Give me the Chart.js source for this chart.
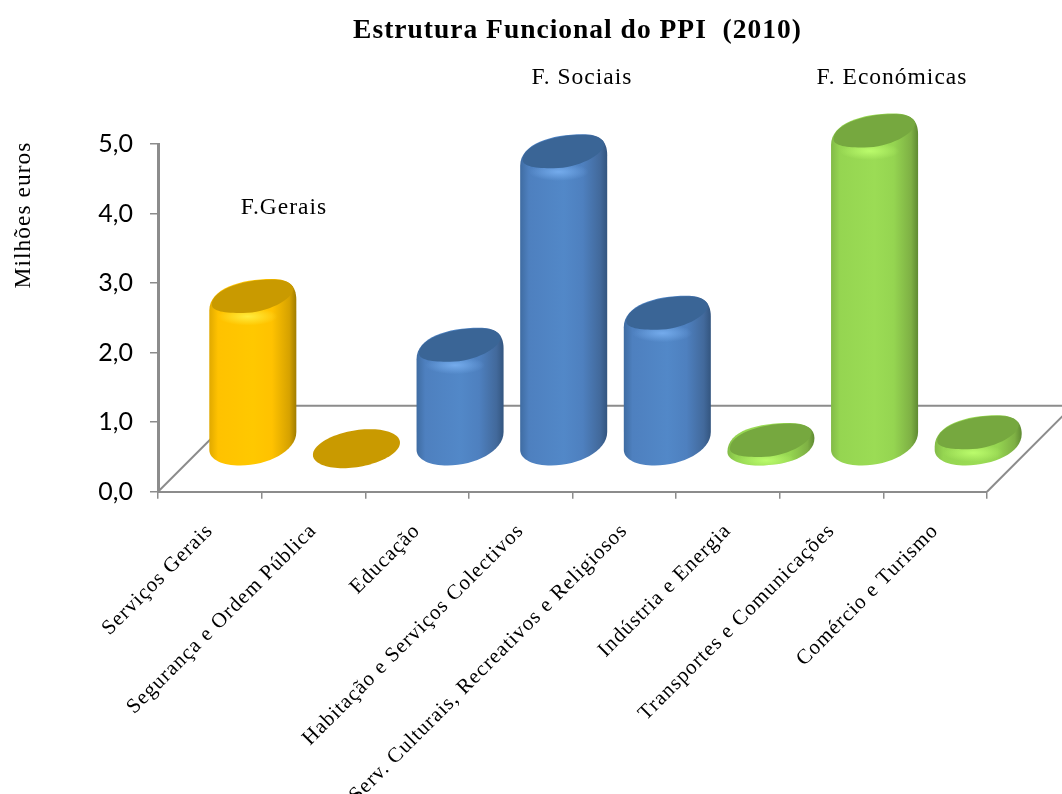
<!DOCTYPE html>
<html lang="pt">
<head>
<meta charset="utf-8">
<title>Estrutura Funcional do PPI (2010)</title>
<style>html,body{margin:0;padding:0;background:#fff;overflow:hidden}canvas{display:block}</style>
<script src="https://cdn.jsdelivr.net/npm/chart.js@4"></script>
</head>
<body>
<canvas id="c" width="1062" height="794"></canvas>
<script>
const categories = ['Serviços Gerais','Segurança e Ordem Pública','Educação','Habitação e Serviços Colectivos','Serv. Culturais, Recreativos e Religiosos','Indústria e Energia','Transportes e Comunicações','Comércio e Turismo'];
const values = [2.16, 0, 1.46, 4.24, 1.92, 0.09, 4.54, 0.2];
const barColors = ['#ffc000','#ffc000','#4f81bd','#4f81bd','#4f81bd','#92d050','#92d050','#92d050'];
const groupLabels = ['F.Gerais','F. Sociais','F. Económicas'];
const titleText = 'Estrutura Funcional do PPI  (2010)';
const yTitle = 'Milhões euros';

const SERIF = '"Liberation Serif", serif';
const GREY = '#8c8c8c';
const DEPTH = 86;
const shades = {
  '#ffc000': {left:'#e0a900', main:'#ffc200', mid:'#ffc800', dark:'#d6a200', edge:'#a07c00', face:'#c99a00', hi:'rgba(255,240,70,.9)'},
  '#4f81bd': {left:'#3f6ca2', main:'#4e80bf', mid:'#5288c8', dark:'#42699b', edge:'#33557f', face:'#3a6596', hi:'rgba(120,175,240,.9)'},
  '#92d050': {left:'#82ba47', main:'#95d551', mid:'#9bdc55', dark:'#7eb044', edge:'#5f8a32', face:'#76a83f', hi:'rgba(190,255,110,.9)'}
};

function flatEllipse(ctx, cx, cy, W) {
  const H = 19.5, S = 13.5, A = Math.sqrt(W * W - S * S);
  ctx.beginPath();
  for (let i = 0; i <= 96; i++) {
    const t = i / 96 * Math.PI * 2;
    ctx.lineTo(cx + A * Math.cos(t) + S * Math.sin(t), cy - H * Math.sin(t));
  }
  ctx.closePath();
}

function silhouette(ctx, cx, yt, yb, k) {
  const X = v => cx + v * k;
  let rTop = yt + 1.5, rBot = yb - 16, lTop = yt + 12, lBot = yb + 1.5;
  if (rTop > rBot) rTop = rBot = (rTop + rBot) / 2;
  if (lTop > lBot) lTop = lBot = (lTop + lBot) / 2;
  ctx.beginPath();
  ctx.moveTo(X(43.5), rTop);
  ctx.bezierCurveTo(X(43.5), yt - 14, X(35), yt - 19.5, X(19), yt - 19.5);
  ctx.bezierCurveTo(X(-12), yt - 19.5, X(-43.5), lTop - 22, X(-43.5), lTop);
  ctx.lineTo(X(-43.5), lBot);
  ctx.bezierCurveTo(X(-43.5), yb + 12, X(-30), yb + 17.5, X(-12.5), yb + 17.5);
  ctx.bezierCurveTo(X(15), yb + 17.5, X(43.5), rBot + 19, X(43.5), rBot);
  ctx.closePath();
}

function topFace(ctx, cx, yt, k) {
  const X = v => cx + v * k;
  ctx.beginPath();
  ctx.moveTo(X(40.5), yt - 10);
  ctx.bezierCurveTo(X(40.5), yt - 15.5, X(33), yt - 19, X(19), yt - 19);
  ctx.bezierCurveTo(X(-12), yt - 19, X(-41), yt - 8, X(-41), yt + 6);
  ctx.bezierCurveTo(X(-41), yt + 13, X(-28), yt + 14.5, X(-10), yt + 14.5);
  ctx.bezierCurveTo(X(14), yt + 14.5, X(40.5), yt + 1, X(40.5), yt - 10);
  ctx.closePath();
}

Chart.BarElement.prototype.draw = function (ctx) {
  const {x, y, base, width} = this.getProps(['x','y','base','width']);
  const col = shades[this.options.backgroundColor] || shades['#4f81bd'];
  const cx = x + DEPTH / 2, yb = base - DEPTH / 2, yt = y - DEPTH / 2;
  const W = width / 2, k = W / 43.5;
  ctx.save();
  if (yb - yt < 0.5) {
    flatEllipse(ctx, cx, yb, W);
    ctx.fillStyle = col.face;
    ctx.fill();
    ctx.restore();
    return;
  }
  silhouette(ctx, cx, yt, yb, k);
  const g = ctx.createLinearGradient(cx - W, 0, cx + W, 0);
  g.addColorStop(0, col.left);
  g.addColorStop(0.1, col.main);
  g.addColorStop(0.5, col.mid);
  g.addColorStop(0.72, col.main);
  g.addColorStop(0.92, col.dark);
  g.addColorStop(1, col.edge);
  ctx.fillStyle = g;
  ctx.fill();
  ctx.clip();
  ctx.save();
  ctx.translate(cx - 5, yt + 18);
  ctx.scale(1, 0.3);
  const r = ctx.createRadialGradient(0, 0, 0, 0, 0, 30);
  r.addColorStop(0, col.hi);
  r.addColorStop(1, col.hi.replace(/[\d.]+\)$/, '0)'));
  ctx.fillStyle = r;
  ctx.fillRect(-60, -60, 120, 120);
  ctx.restore();
  topFace(ctx, cx, yt, k);
  ctx.fillStyle = col.face;
  ctx.fill();
  ctx.restore();
};

const floorAndText = {
  id: 'floorAndText',
  afterLayout(chart) {
    chart.titleBlock.left += 5;
    chart.titleBlock.right += 5;
    const ys = chart.scales.y;
    if (!ys.$wrapped) {
      ys.$wrapped = true;
      const original = ys.drawLabels;
      ys.drawLabels = function (area) {
        const keep = this.ctx.letterSpacing;
        this.ctx.letterSpacing = '0px';
        original.call(this, area);
        this.ctx.letterSpacing = keep;
      };
    }
  },
  beforeDraw(chart) {
    chart.ctx.letterSpacing = '1px';
  },
  beforeDatasetsDraw(chart) {
    const {ctx, scales: {x, y}} = chart;
    const y0 = y.getPixelForValue(0), xl = x.left, xr = x.right;
    ctx.save();
    ctx.strokeStyle = GREY;
    ctx.lineWidth = 2;
    ctx.beginPath();
    ctx.moveTo(xl, y0);
    ctx.lineTo(xl + DEPTH, y0 - DEPTH);
    ctx.lineTo(xr + DEPTH, y0 - DEPTH);
    ctx.lineTo(xr, y0);
    ctx.stroke();
    ctx.restore();
  },
  afterDraw(chart) {
    const {ctx} = chart;
    ctx.save();
    ctx.fillStyle = '#000';
    ctx.font = '23.5px ' + SERIF;
    ctx.textAlign = 'center';
    ctx.textBaseline = 'middle';
    ctx.fillText(groupLabels[0], 284, 208);
    ctx.fillText(groupLabels[1], 582, 78);
    ctx.fillText(groupLabels[2], 892, 78);
    ctx.translate(24, 215);
    ctx.rotate(-Math.PI / 2);
    ctx.fillText(yTitle, 0, 0);
    ctx.restore();
    ctx.letterSpacing = '0px';
  }
};

new Chart(document.getElementById('c'), {
  type: 'bar',
  data: {
    labels: categories,
    datasets: [{
      label: 'Milhões euros',
      data: values,
      backgroundColor: barColors,
      barPercentage: 0.84,
      categoryPercentage: 1,
      clip: false
    }]
  },
  options: {
    responsive: false,
    animation: false,
    devicePixelRatio: 1,
    layout: {padding: {left: 0, right: 75, top: 0, bottom: 0}},
    plugins: {
      legend: {display: false},
      tooltip: {enabled: false},
      title: {
        display: true,
        fullSize: false,
        text: titleText,
        color: '#000',
        font: {family: SERIF, size: 27.5, weight: 'bold', lineHeight: 1.2},
        padding: {top: 14, bottom: 97}
      }
    },
    scales: {
      x: {
        offset: true,
        afterFit(s) { s.height = 302.3; },
        border: {color: GREY, width: 2},
        grid: {display: true, drawOnChartArea: false, color: GREY, lineWidth: 1.5, tickLength: 7, offset: true},
        ticks: {
          autoSkip: false, minRotation: 45, maxRotation: 45, padding: 20,
          color: '#000', font: {family: SERIF, size: 21}
        }
      },
      y: {
        min: 0, max: 5,
        afterFit(s) { s.width = 158; },
        border: {color: GREY, width: 3},
        grid: {display: true, drawOnChartArea: false, color: GREY, lineWidth: 1.5, tickLength: 8},
        ticks: {
          stepSize: 1, padding: 17, color: '#000',
          font: {family: 'Lato, "Open Sans", sans-serif', size: 25},
          callback: v => v.toFixed(1).replace('.', ',')
        }
      }
    }
  },
  plugins: [floorAndText]
});
</script>
</body>
</html>
